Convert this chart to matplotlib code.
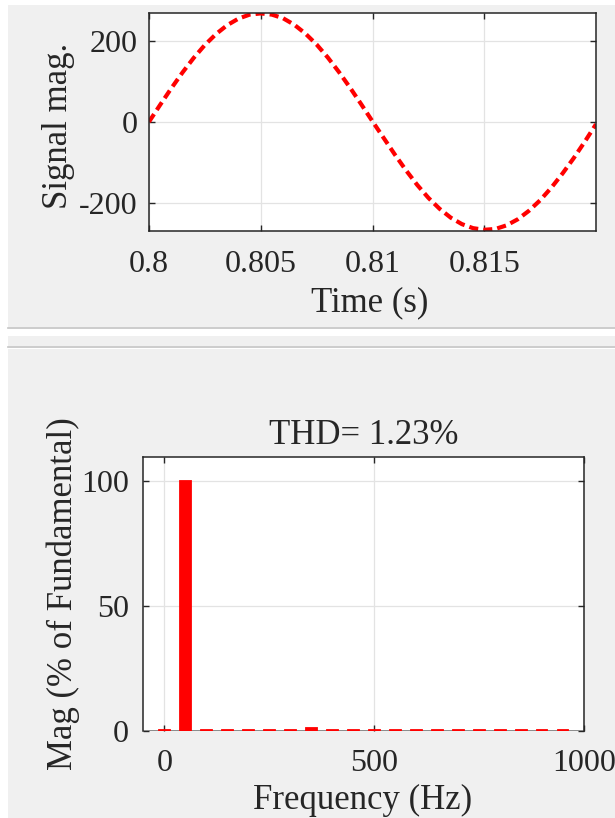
import matplotlib.pyplot as plt
from matplotlib.patches import Rectangle
from matplotlib.lines import Line2D

# signal samples (every 0.5 ms over one 50 Hz cycle)
time_s = [0.8 + 0.0005 * k for k in range(41)]
signal_mag = [0, 42, 83, 122, 158, 190, 217, 239, 255, 265, 268, 265, 256, 240, 218, 191, 159, 123, 84, 43,
              1, -40, -81, -120, -156, -188, -215, -237, -253, -263, -267, -265, -256, -241, -220, -194, -163,
              -128, -90, -49, -6]

# harmonic spectrum (% of fundamental)
freq_hz = [0, 50, 100, 150, 200, 250, 300, 350, 400, 450, 500, 550, 600, 650, 700, 750, 800, 850, 900, 950]
harm_mag = [0.3, 100, 0.25, 0.25, 0.25, 0.5, 0.25, 1.05, 0.25, 0.25, 0.25, 0.3, 0.25, 0.3, 0.25, 0.25, 0.25,
            0.25, 0.25, 0.3]
thd_text = 'THD= 1.23%'

W, H = 615, 818
plt.rcParams['font.family'] = ['Liberation Serif', 'DejaVu Serif']
plt.rcParams['text.color'] = '#262626'
plt.rcParams['axes.labelcolor'] = '#262626'

fig = plt.figure(figsize=(W / 100, H / 100), dpi=100, facecolor='white')


def frac(x0, y0, x1, y1):
    # pixel box (top-left origin) -> figure fraction [left, bottom, width, height]
    return [x0 / W, 1 - y1 / H, (x1 - x0) / W, (y1 - y0) / H]


gray = '#f0f0f0'
for box in [(8, 5, 615, 327), (8, 336, 615, 346), (8, 349, 615, 818)]:
    l, b, w, h = frac(*box)
    fig.add_artist(Rectangle((l, b), w, h, transform=fig.transFigure, facecolor=gray, edgecolor='none', zorder=0))
for yy in [327.5, 346.5]:
    fig.add_artist(Line2D([8 / W, 1], [1 - yy / H] * 2, transform=fig.transFigure, color='#c4c4c4', lw=1.2))


def style(ax):
    for s in ax.spines.values():
        s.set_color('#262626')
        s.set_linewidth(1.1)
    ax.tick_params(direction='in', length=4, width=1, colors='#262626', labelsize=23,
                   top=True, right=True, pad=8)
    ax.grid(True, color='#e3e3e3', lw=0.9)
    ax.set_axisbelow(True)


# top: time signal
ax1 = fig.add_axes(frac(149, 13, 596, 231))
style(ax1)
ax1.plot(time_s, signal_mag, color='red', lw=3.0, dashes=(2.2, 1.2))
ax1.set_xlim(0.8, 0.82)
ax1.set_ylim(-270, 269)
ax1.set_xticks([0.8, 0.805, 0.81, 0.815])
ax1.set_xticklabels(['0.8', '0.805', '0.81', '0.815'])
ax1.set_yticks([-200, 0, 200])
ax1.set_yticklabels(['-200', '0', '200'])
ax1.tick_params(axis='x', pad=14)
ax1.set_xlabel('Time (s)', fontsize=25)
ax1.set_ylabel('Signal mag.', fontsize=25)
ax1.xaxis.set_label_coords(0.494, -0.255)
ax1.yaxis.set_label_coords(-0.165, 0.48)

# bottom: FFT bars
ax2 = fig.add_axes(frac(143, 457, 584, 731))
style(ax2)
ax2.axhline(0, color='#8a8a8a', lw=1.4, zorder=1)
ax2.bar(freq_hz, harm_mag, width=26, color='red', edgecolor='red', lw=1.3, zorder=2)
ax2.spines['bottom'].set_visible(False)
ax2.set_xlim(-51, 1000)
ax2.set_ylim(0, 109.6)
ax2.set_xticks([0, 500, 1000])
ax2.set_yticks([0, 50, 100])
ax2.tick_params(axis='y', pad=10)
ax2.tick_params(axis='x', pad=13)
ax2.set_title(thd_text, fontsize=25, pad=9)
ax2.set_xlabel('Frequency (Hz)', fontsize=25)
ax2.set_ylabel('Mag (% of Fundamental)', fontsize=25)
ax2.xaxis.set_label_coords(0.499, -0.193)
ax2.yaxis.set_label_coords(-0.142, 0.5)

fig.savefig('out.png', dpi=100, facecolor=fig.get_facecolor())
